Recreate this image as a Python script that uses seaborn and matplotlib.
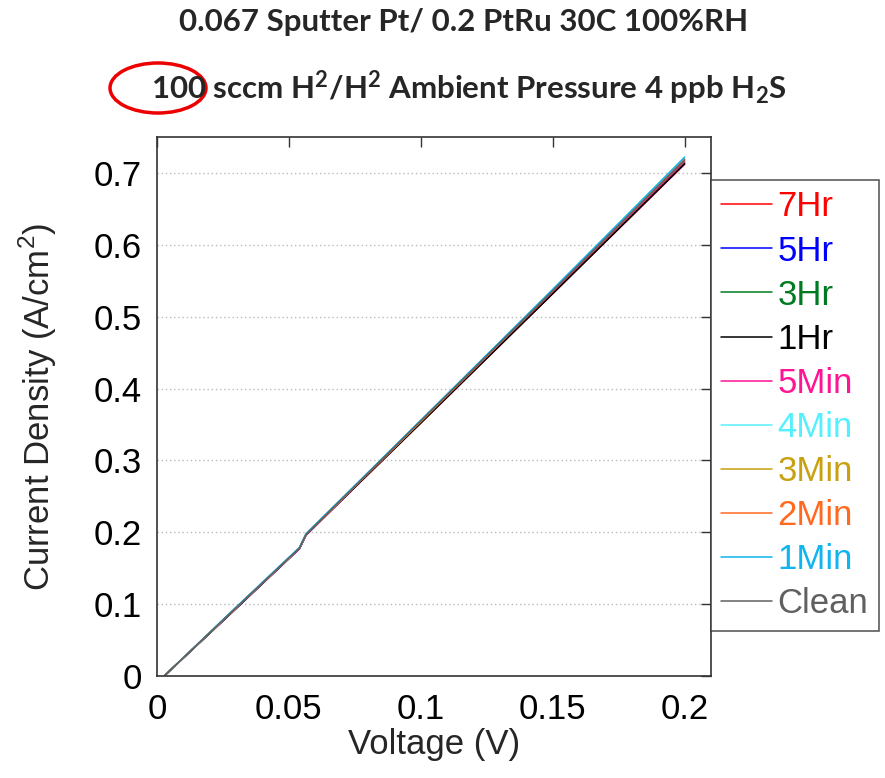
import numpy as np
import pandas as pd
import matplotlib
matplotlib.use("Agg")
import matplotlib.pyplot as plt
import seaborn as sns
from matplotlib.patches import Ellipse

# ---- data ----
voltage = [0.003, 0.030, 0.054, 0.0565, 0.100, 0.150, 0.200]
series_names = ["7Hr", "5Hr", "3Hr", "1Hr", "5Min", "4Min", "3Min", "2Min", "1Min", "Clean"]
j_7hr = [0.001, 0.094, 0.177, 0.196, 0.352, 0.532, 0.712]
j_5hr = [0.001, 0.094, 0.177, 0.196, 0.353, 0.533, 0.713]
j_3hr = [0.001, 0.095, 0.178, 0.197, 0.353, 0.534, 0.715]
j_1hr = [0.001, 0.094, 0.178, 0.197, 0.352, 0.532, 0.713]
j_5min = [0.001, 0.095, 0.178, 0.197, 0.354, 0.535, 0.716]
j_4min = [0.001, 0.095, 0.178, 0.198, 0.355, 0.537, 0.720]
j_3min = [0.001, 0.095, 0.178, 0.197, 0.354, 0.536, 0.718]
j_2min = [0.001, 0.095, 0.178, 0.197, 0.355, 0.537, 0.719]
j_1min = [0.001, 0.096, 0.179, 0.198, 0.356, 0.538, 0.722]
j_clean = [0.001, 0.095, 0.178, 0.197, 0.355, 0.536, 0.718]
series_values = [j_7hr, j_5hr, j_3hr, j_1hr, j_5min, j_4min, j_3min, j_2min, j_1min, j_clean]
series_colors = ["#ff0000", "#0000ff", "#007a20", "#000000", "#ff1493",
                 "#55f0ff", "#c8a010", "#ff6a20", "#10b4ee", "#606060"]
x_ticks = [0, 0.05, 0.1, 0.15, 0.2]
x_tick_labels = ["0", "0.05", "0.1", "0.15", "0.2"]
y_ticks = [0, 0.1, 0.2, 0.3, 0.4, 0.5, 0.6, 0.7]
y_tick_labels = ["0", "0.1", "0.2", "0.3", "0.4", "0.5", "0.6", "0.7"]

rows = []
for name, vals in zip(series_names, series_values):
    for v, j in zip(voltage, vals):
        rows.append({"V": v, "J": j, "series": name})
df = pd.DataFrame(rows)

sns.set_theme(style="white")
plt.rcParams["font.family"] = ["Liberation Sans", "DejaVu Sans"]
plt.rcParams["mathtext.fontset"] = "custom"
plt.rcParams["mathtext.rm"] = "Liberation Sans"
plt.rcParams["mathtext.bf"] = "Lato:bold"

fig = plt.figure(figsize=(8.85, 7.78), dpi=100)
ax = fig.add_axes([157 / 885, 1 - 676 / 778, (711 - 157) / 885, (676 - 137) / 778])

palette = dict(zip(series_names, series_colors))
sns.lineplot(data=df, x="V", y="J", hue="series", hue_order=series_names,
             palette=palette, linewidth=1.1, ax=ax, legend=False, sort=False)

ax.set_xlim(0, 0.21)
ax.set_ylim(0, 0.75)
ax.set_xticks(x_ticks)
ax.set_xticklabels(x_tick_labels)
ax.set_yticks(y_ticks)
ax.set_yticklabels(y_tick_labels)
ax.tick_params(direction="in", length=7, width=1, top=True, right=True,
               labelsize=25, colors="#333333", labelcolor="black")
ax.tick_params(axis="x", pad=12)
ax.tick_params(axis="y", pad=11)
for s in ax.spines.values():
    s.set_color("#333333")
    s.set_linewidth(1.2)
for yt in y_ticks[1:]:
    ax.axhline(yt, color="#bbbbbb", linestyle=(0, (1, 2)), linewidth=1.0, zorder=0)

ax.set_xlabel("Voltage (V)", fontsize=25, labelpad=2)
ax.set_ylabel("Current Density (A/cm$^{2}$)", fontsize=25, labelpad=25)

handles = [plt.Line2D([], [], color=c, linewidth=1.1) for c in series_colors]
leg = fig.legend(handles, series_names, loc="upper left",
                 bbox_to_anchor=(711 / 885, 1 - 180 / 778),
                 frameon=True, fancybox=False, edgecolor="#333333",
                 fontsize=25, labelcolor="linecolor", handlelength=1.47,
                 handletextpad=0.15, labelspacing=0.32, borderpad=0.3,
                 borderaxespad=0)
leg.get_frame().set_linewidth(1.2)

fig.text(464 / 885, 1 - 22 / 778, "0.067 Sputter Pt/ 0.2 PtRu 30C 100%RH",
         ha="center", va="center", fontsize=22.5, fontweight="bold", family="Lato")
fig.text(469 / 885, 1 - 88 / 778,
         r"100 sccm H$\mathbf{^{2}}$/H$\mathbf{^{2}}$ Ambient Pressure 4 ppb H$\mathbf{_{2}}$S",
         ha="center", va="center", fontsize=22.5, fontweight="bold", family="Lato")

ell = Ellipse((158 / 885, 1 - 88 / 778), 96 / 885, 50 / 778,
              transform=fig.transFigure, fill=False, edgecolor="#ee0000", linewidth=2.5)
fig.add_artist(ell)

fig.savefig("out.png", dpi=100)
